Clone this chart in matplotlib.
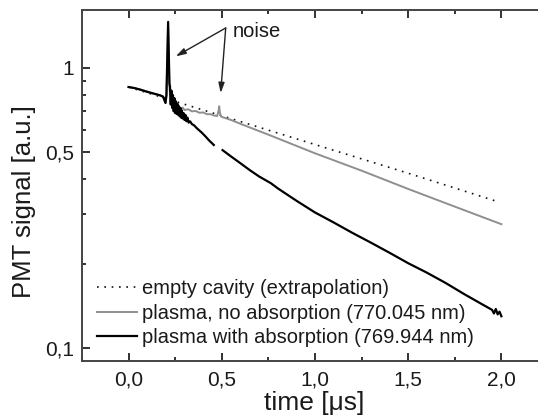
import numpy as np
import matplotlib
matplotlib.use("Agg")
import matplotlib.pyplot as plt
from matplotlib.ticker import FixedLocator, FixedFormatter

plt.rcParams['font.family'] = ['Liberation Sans', 'DejaVu Sans']

# ---- data ----
t_cavity = [0.0, 0.5, 1.0, 1.5, 1.97]
y_cavity = [0.855, 0.675, 0.533, 0.421, 0.335]

t_gray = [0.0, 0.03, 0.06, 0.09, 0.12, 0.15, 0.17, 0.185, 0.198, 0.203, 0.212, 0.219,
          0.225, 0.232, 0.24, 0.25, 0.26, 0.27, 0.28, 0.29, 0.30, 0.32, 0.34, 0.36,
          0.38, 0.40, 0.42, 0.44, 0.46, 0.475, 0.482, 0.486, 0.490, 0.497, 0.52,
          0.55, 0.60, 0.75, 1.0, 1.25, 1.5, 1.75, 2.0]
y_gray = [0.855, 0.848, 0.838, 0.826, 0.815, 0.805, 0.798, 0.79, 0.75, 0.80, 1.40, 0.86,
          0.76, 0.75, 0.735, 0.74, 0.722, 0.73, 0.715, 0.722, 0.708, 0.712, 0.70, 0.702,
          0.692, 0.694, 0.684, 0.684, 0.676, 0.674, 0.70, 0.73, 0.69, 0.67, 0.662,
          0.652, 0.632, 0.578, 0.496, 0.43, 0.37, 0.32, 0.277]

t_black = [0.0, 0.03, 0.06, 0.09, 0.12, 0.15, 0.17, 0.185, 0.198, 0.203, 0.212, 0.219,
           0.222, 0.226, 0.230, 0.234, 0.238, 0.242, 0.246, 0.250, 0.254, 0.258, 0.262,
           0.266, 0.270, 0.274, 0.278, 0.282, 0.286, 0.290, 0.295, 0.300, 0.305, 0.310,
           0.316, 0.322, 0.330, 0.340, 0.350, 0.37, 0.39, 0.41, 0.43, 0.457, 0.48,
           0.504, 0.55, 0.60, 0.65, 0.70, 0.763, 0.80, 0.90, 1.00, 1.10, 1.20, 1.30,
           1.40, 1.50, 1.60, 1.70, 1.80, 1.90, 1.95, 1.96, 1.97, 1.98, 1.99, 2.00]
y_black = [0.855, 0.848, 0.838, 0.826, 0.815, 0.805, 0.798, 0.79, 0.75, 0.80, 1.46, 0.88,
           0.86, 0.74, 0.83, 0.72, 0.80, 0.70, 0.78, 0.69, 0.76, 0.685, 0.745,
           0.68, 0.73, 0.672, 0.72, 0.665, 0.705, 0.66, 0.69, 0.652, 0.68, 0.645,
           0.665, 0.638, 0.645, 0.63, 0.625, 0.606, 0.59, 0.572, 0.553, 0.531, np.nan,
           0.509, 0.483, 0.457, 0.432, 0.41, 0.388, 0.372, 0.336, 0.305, 0.281, 0.258, 0.238,
           0.219, 0.201, 0.186, 0.171, 0.156, 0.143, 0.137, 0.133, 0.138, 0.132, 0.135, 0.130]

x_ticks = [0.0, 0.5, 1.0, 1.5, 2.0]
x_tick_labels = ["0,0", "0,5", "1,0", "1,5", "2,0"]
y_ticks = [0.1, 0.5, 1.0]
y_tick_labels = ["0,1", "0,5", "1"]
y_minor = [0.2, 0.3, 0.4, 0.6, 0.7, 0.8, 0.9]

labels = ["empty cavity (extrapolation)",
          "plasma, no absorption (770.045 nm)",
          "plasma with absorption (769.944 nm)"]

# ---- figure ----
W, H = 538, 416
fig = plt.figure(figsize=(W / 100, H / 100), dpi=100)
ax_l, ax_r, ax_t, ax_b = 82, 548, 10, 361
ax = fig.add_axes([ax_l / W, 1 - ax_b / H, (ax_r - ax_l) / W, (ax_b - ax_t) / H])

ax.plot(t_cavity, y_cavity, color='#111111', lw=1.2, linestyle=(0, (1, 3.4)),
        label=labels[0], zorder=2)
ax.plot(t_gray, y_gray, color='#8f8f8f', lw=1.4, label=labels[1], zorder=3)
ax.plot(t_black, y_black, color='#000000', lw=1.6, label=labels[2], zorder=4)

ax.set_yscale('log')
ax.set_xlim(-0.25, 2.25)
ax.set_ylim(0.09, 1.61)

ax.xaxis.set_major_locator(FixedLocator(x_ticks))
ax.xaxis.set_major_formatter(FixedFormatter(x_tick_labels))
ax.xaxis.set_minor_locator(FixedLocator([-0.25, 0.25, 0.75, 1.25, 1.75]))
ax.yaxis.set_major_locator(FixedLocator(y_ticks))
ax.yaxis.set_major_formatter(FixedFormatter(y_tick_labels))
ax.yaxis.set_minor_locator(FixedLocator(y_minor))
ax.yaxis.set_minor_formatter(FixedFormatter([""] * len(y_minor)))

ax.tick_params(which='both', direction='in', top=True, right=False, width=1.3,
               color='#222222', labelsize=15, labelcolor='#1a1a1a')
ax.tick_params(which='major', length=5.5)
ax.tick_params(which='minor', length=3)
ax.tick_params(axis='x', which='major', pad=6.5)
ax.tick_params(axis='y', which='major', pad=6)

for s in ['left', 'bottom', 'top']:
    ax.spines[s].set_linewidth(1.4)
    ax.spines[s].set_color('#444444')
ax.spines['right'].set_visible(False)

fig.text(24 / W, 1 - 202 / H, "PMT signal [a.u.]", rotation=90, ha='center',
         va='center', fontsize=18.5, color='#1a1a1a')
fig.text(314 / W, 1 - 403 / H, "time [\u03bcs]", ha='center', va='center',
         fontsize=19, color='#1a1a1a')

leg = ax.legend(loc='upper left',
                bbox_to_anchor=((97 - ax_l) / (ax_r - ax_l), (ax_b - 279) / (ax_b - ax_t)),
                frameon=False, fontsize=14.5, handlelength=2.0, handletextpad=0.25,
                labelspacing=0.28, borderpad=0, borderaxespad=0)
for txt in leg.get_texts():
    txt.set_color('#1a1a1a')

# noise annotation
ax.text(0.559, 1.345, "noise", fontsize=14.5, ha='left', va='center', color='#1a1a1a')
origin = (0.521, 1.389)
for tip in [(0.253, 1.10), (0.494, 0.814)]:
    ax.annotate('', xy=tip, xytext=origin,
                arrowprops=dict(arrowstyle='-|>,head_length=0.6,head_width=0.18',
                                color='#222222', lw=1.0, shrinkA=0, shrinkB=0))

fig.savefig('out.png', dpi=100)
